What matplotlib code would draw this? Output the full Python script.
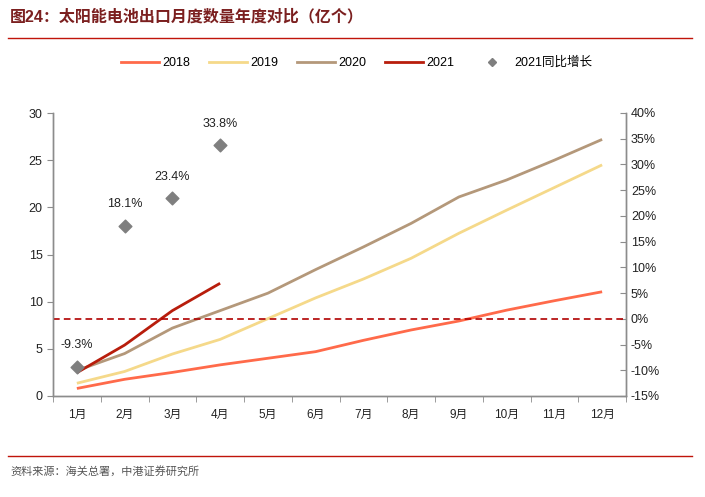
import matplotlib
matplotlib.use("Agg")
import matplotlib.pyplot as plt
from matplotlib.lines import Line2D
from matplotlib.ticker import FuncFormatter, FixedLocator
import numpy as np

plt.rcParams['font.family'] = ['Liberation Sans', 'Noto Sans CJK SC', 'DejaVu Sans']

MONTHS = ["1月", "2月", "3月", "4月", "5月", "6月", "7月", "8月", "9月", "10月", "11月", "12月"]
Y2018 = [0.8, 1.77, 2.5, 3.3, 4.0, 4.7, 5.9, 7.0, 7.95, 9.1, 10.1, 11.05]
Y2019 = [1.35, 2.6, 4.45, 6.0, 8.2, 10.4, 12.4, 14.6, 17.25, 19.7, 22.1, 24.5]
Y2020 = [2.7, 4.5, 7.2, 9.05, 10.9, 13.4, 15.8, 18.3, 21.1, 22.9, 25.0, 27.2]
Y2021 = [2.47, 5.4, 9.05, 11.95]
YOY2021 = [-9.3, 18.1, 23.4, 33.8]

C2018 = "#FF6A4A"
C2019 = "#F5D98A"
C2020 = "#B4987A"
C2021 = "#B81D0C"
CDIAM = "#7F7F7F"
RED = "#C0140A"
GRID = "#8C8C8C"

fig = plt.figure(figsize=(7.05, 4.97), dpi=100)
ax = fig.add_axes([53 / 705, 1 - 396 / 497, (626 - 53) / 705, (396 - 113) / 497])
ax2 = ax.twinx()

x = np.arange(len(MONTHS))
ax.plot(x, Y2018, color=C2018, lw=2, solid_capstyle="butt", zorder=3)
ax.plot(x, Y2019, color=C2019, lw=2, solid_capstyle="butt", zorder=3)
ax.plot(x, Y2020, color=C2020, lw=2, solid_capstyle="butt", zorder=3)
ax.plot(x[:len(Y2021)], Y2021, color=C2021, lw=2, solid_capstyle="butt", zorder=4)

ax2.scatter(x[:len(YOY2021)], YOY2021, marker="D", s=42, color=CDIAM, zorder=5)
for xi, v in zip(x, YOY2021):
    ax2.annotate(f"{v:.1f}%", (xi, v), xytext=(0, 11), textcoords="offset points",
                 ha="center", va="bottom", fontsize=9, color="#222222")
ax2.axhline(0, color="#B00000", lw=1.2, ls=(0, (4, 2.5)), zorder=2)

ax.set_xlim(-0.5, len(MONTHS) - 0.5)
ax.set_ylim(0, 30)
ax.set_yticks(range(0, 31, 5))
ax2.set_ylim(-15, 40)
ax2.set_yticks(range(-15, 41, 5))
ax2.yaxis.set_major_formatter(FuncFormatter(lambda v, p: f"{v:.0f}%"))

ax.set_xticks(x)
ax.set_xticklabels(MONTHS)
ax.xaxis.set_minor_locator(FixedLocator(np.arange(-0.5, len(MONTHS), 1)))
ax.tick_params(axis="x", which="major", length=0, pad=9, labelsize=8.5, colors="#222222")
ax.tick_params(axis="x", which="minor", length=4, color=GRID, direction="out")
ax.tick_params(axis="y", length=4, color=GRID, direction="out", labelsize=9, colors="#222222")
ax2.tick_params(axis="y", length=4, color=GRID, direction="in", labelsize=9, colors="#222222")
for a in (ax, ax2):
    a.spines["top"].set_visible(False)
    for s in ("left", "right", "bottom"):
        a.spines[s].set_color(GRID)
        a.spines[s].set_linewidth(1)

handles = [Line2D([], [], color=C2018, lw=2),
           Line2D([], [], color=C2019, lw=2),
           Line2D([], [], color=C2020, lw=2),
           Line2D([], [], color=C2021, lw=2),
           Line2D([], [], color=CDIAM, marker="D", ls="none", markersize=4)]
fig.legend(handles, ["2018", "2019", "2020", "2021", "2021同比增长"], loc="center",
           bbox_to_anchor=(357 / 705, 1 - 63 / 497), ncol=5, frameon=False,
           fontsize=9, handlelength=3.0, columnspacing=1.5, handletextpad=0.3)

fig.text(10 / 705, 1 - 17 / 497, "图24：太阳能电池出口月度数量年度对比（亿个）",
         fontsize=11.5, weight="bold", color="#7B1F1F", va="center")
fig.add_artist(Line2D([8 / 705, 692 / 705], [1 - 38 / 497, 1 - 38 / 497], color=RED, lw=1))
fig.add_artist(Line2D([8 / 705, 692 / 705], [1 - 456 / 497, 1 - 456 / 497], color=RED, lw=1))
fig.text(10 / 705, 1 - 471 / 497, "资料来源：海关总署，中港证券研究所",
         fontsize=8, style="italic", color="#555555", va="center")

fig.savefig("out.png", dpi=100, facecolor="white")
